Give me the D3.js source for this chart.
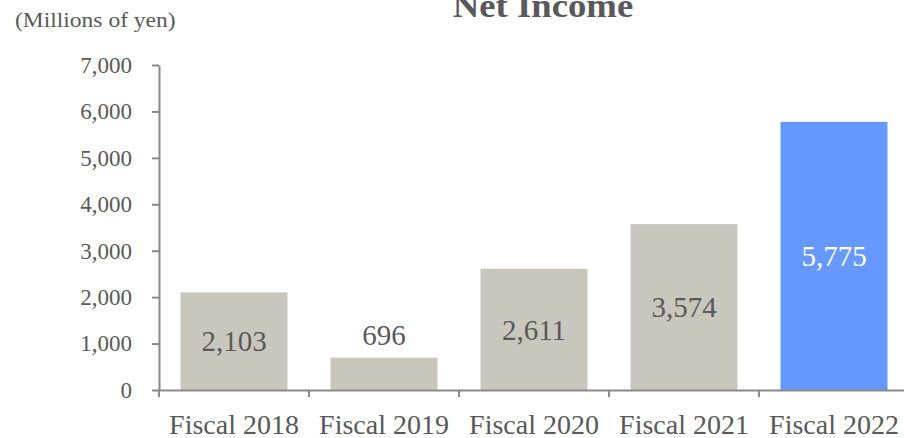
<!DOCTYPE html>
<html>
<head>
<meta charset="utf-8">
<script src="https://cdn.jsdelivr.net/npm/d3@7"></script>
<style>
  html, body { margin: 0; padding: 0; background: #fff; }
  svg { display: block; font-family: "Liberation Serif", "Times New Roman", serif; }
</style>
</head>
<body>
<div id="chart"></div>
<script>
// chart data
var categories = ["Fiscal 2018", "Fiscal 2019", "Fiscal 2020", "Fiscal 2021", "Fiscal 2022"];
var values = [2103, 696, 2611, 3574, 5775];
var yTicks = [0, 1000, 2000, 3000, 4000, 5000, 6000, 7000];
var highlight = "Fiscal 2022";

var width = 904, height = 438;
var margin = {top: 65, right: -5, bottom: 48, left: 159};
var textColor = "#595959", axisColor = "#898989";

var svg = d3.select("#chart").append("svg")
	.attr("width", width)
	.attr("height", height);

var x = d3.scaleBand()
	.domain(categories)
	.range([margin.left, width - margin.right])
	.paddingInner(0.287)
	.paddingOuter(0.1435);

var y = d3.scaleLinear()
	.domain([0, 7000])
	.range([height - margin.bottom, margin.top]);

var fmt = d3.format(",.0f");

// title + unit label
svg.append("text")
	.attr("transform", "translate(543,17) scale(1.08,1)")
	.attr("text-anchor", "middle")
	.attr("font-weight", "bold")
	.attr("font-size", 34)
	.attr("fill", textColor)
	.text("Net Income");

svg.append("text")
	.attr("transform", "translate(15,27) scale(1.12,1)")
	.attr("font-size", 21)
	.attr("fill", textColor)
	.text("(Millions of yen)");

// bars
var bar = svg.selectAll("g.bar")
	.data(values)
	.enter().append("g")
	.attr("class", "bar");

bar.append("rect")
	.attr("x", function(d, i) { return x(categories[i]); })
	.attr("y", function(d) { return y(d); })
	.attr("width", x.bandwidth())
	.attr("height", function(d) { return y(0) - y(d); })
	.attr("fill", function(d, i) { return categories[i] === highlight ? "#6699ff" : "#c9c6bd"; });

bar.append("text")
	.attr("x", function(d, i) { return x(categories[i]) + x.bandwidth() / 2; })
	.attr("y", function(d) {
		var h = y(0) - y(d);
		// label above the bar when it doesn't fit inside
		return h < 40 ? y(d) - 23 : y(d) + h / 2;
	})
	.attr("dy", "0.35em")
	.attr("text-anchor", "middle")
	.attr("font-size", 29)
	.attr("fill", function(d, i) { return categories[i] === highlight ? "#ffffff" : textColor; })
	.text(function(d) { return fmt(d); });

// y axis
var yAxis = svg.append("g")
	.attr("transform", "translate(" + margin.left + ",0)")
	.call(d3.axisLeft(y).tickValues(yTicks).tickFormat(fmt).tickSize(7).tickPadding(20).tickSizeOuter(0));

// x axis: ticks at band boundaries
var step = x.step();
var xAxis = svg.append("g")
	.attr("transform", "translate(0," + y(0) + ")")
	.call(d3.axisBottom(x).tickSize(0).tickPadding(24).tickSizeOuter(0));

xAxis.selectAll(".sep")
	.data(categories)
	.enter().append("line")
	.attr("class", "sep")
	.attr("x1", function(d) { return x(d) - step * x.paddingInner() / 2; })
	.attr("x2", function(d) { return x(d) - step * x.paddingInner() / 2; })
	.attr("y1", 0)
	.attr("y2", 7);

[yAxis, xAxis].forEach(function(a) {
	a.selectAll("path, line").attr("stroke", axisColor).attr("stroke-width", 2);
	a.selectAll("text").attr("fill", textColor).attr("font-family", "Liberation Serif, serif");
});
yAxis.selectAll("text").attr("font-size", 23);
xAxis.selectAll("text").attr("font-size", 28);
</script>
</body>
</html>
